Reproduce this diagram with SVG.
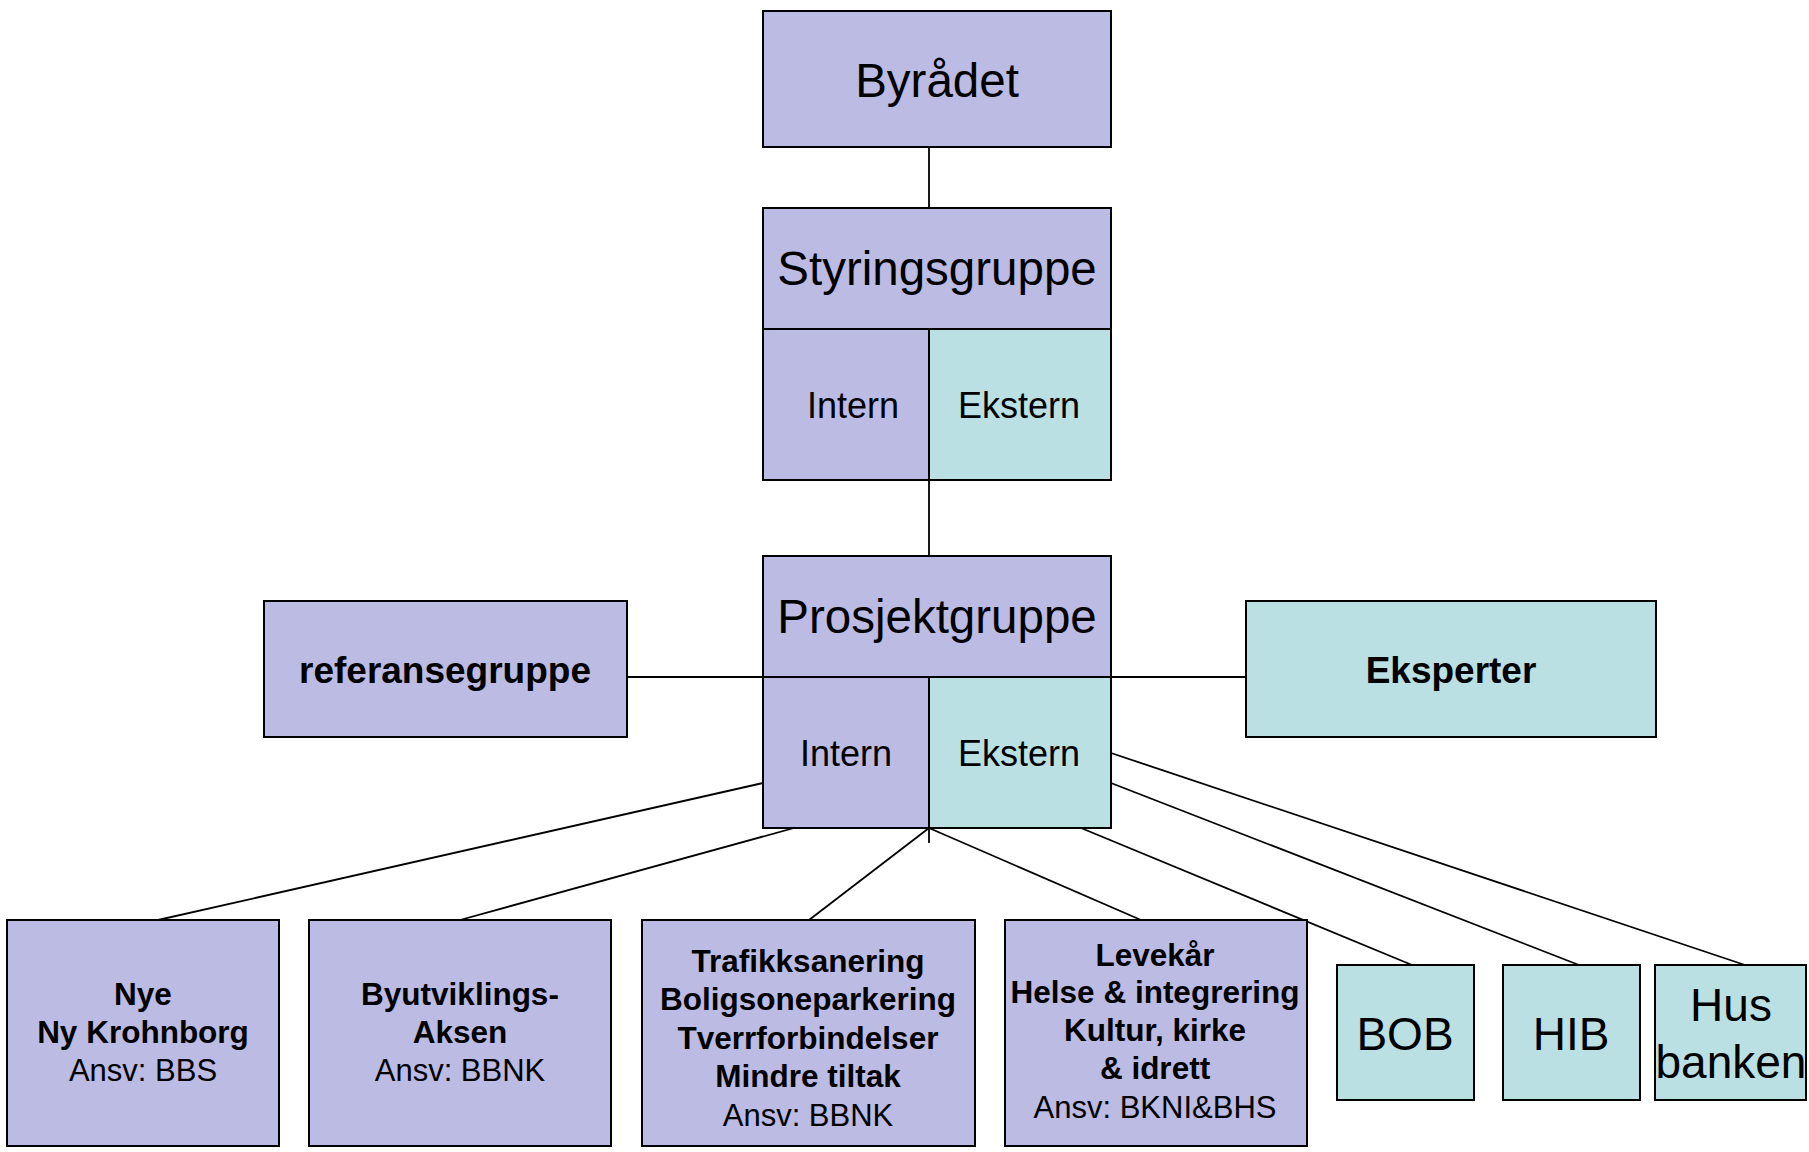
<svg xmlns="http://www.w3.org/2000/svg" width="1809" height="1152" viewBox="0 0 1809 1152">
<style>
  .lav { fill: #BBBBE3; stroke: #000; stroke-width: 2; }
  .cyn { fill: #BAE0E3; stroke: #000; stroke-width: 2; }
  .edge { stroke: #000; stroke-width: 1.8; fill: none; }
  text { font-family: "Liberation Sans", Arial, sans-serif; fill: #000; text-anchor: middle; }
  .big { font-size: 47.5px; }
  .mid { font-size: 36px; }
  .hdr { font-size: 37px; font-weight: bold; }
  .b { font-size: 31.5px; font-weight: bold; }
  .r { font-size: 31px; }
  .box { font-size: 46px; }
</style>
<rect width="1809" height="1152" fill="#FFFFFF"/>

<g id="connectors">
  <line class="edge" x1="929" y1="147" x2="929" y2="208"/>
  <line class="edge" x1="929" y1="480" x2="929" y2="556"/>
  <line class="edge" x1="626" y1="677" x2="1246" y2="677"/>
  <line class="edge" x1="929" y1="828" x2="929" y2="843"/>
  <line class="edge" x1="763" y1="783" x2="158" y2="920"/>
  <line class="edge" x1="794" y1="828" x2="460" y2="920"/>
  <line class="edge" x1="929" y1="828" x2="809" y2="920"/>
  <line class="edge" x1="929" y1="828" x2="1141" y2="920"/>
  <line class="edge" x1="1081" y1="828" x2="1412" y2="965"/>
  <line class="edge" x1="1111" y1="783" x2="1579" y2="965"/>
  <line class="edge" x1="1111" y1="753" x2="1745" y2="965"/>
</g>

<g id="byradet">
  <rect class="lav" x="763" y="11" width="348" height="136"/>
  <text class="big" x="937" y="97">Byrådet</text>
</g>

<g id="styringsgruppe">
  <rect class="lav" x="763" y="208" width="348" height="121"/>
  <rect class="lav" x="763" y="329" width="166" height="151"/>
  <rect class="cyn" x="929" y="329" width="182" height="151"/>
  <text class="big" x="937" y="285">Styringsgruppe</text>
  <text class="mid" x="853" y="418">Intern</text>
  <text class="mid" x="1019" y="418">Ekstern</text>
</g>

<g id="prosjektgruppe">
  <rect class="lav" x="763" y="556" width="348" height="121"/>
  <rect class="lav" x="763" y="677" width="166" height="151"/>
  <rect class="cyn" x="929" y="677" width="182" height="151"/>
  <text class="big" x="937" y="633">Prosjektgruppe</text>
  <text class="mid" x="846" y="766">Intern</text>
  <text class="mid" x="1019" y="766">Ekstern</text>
</g>

<g id="referansegruppe">
  <rect class="lav" x="264" y="601" width="363" height="136"/>
  <text class="hdr" x="445" y="683">referansegruppe</text>
</g>

<g id="eksperter">
  <rect class="cyn" x="1246" y="601" width="410" height="136"/>
  <text class="hdr" x="1451" y="683">Eksperter</text>
</g>

<g id="krohnborg">
  <rect class="lav" x="7" y="920" width="272" height="226"/>
  <text class="b" x="143" y="1005">Nye</text>
  <text class="b" x="143" y="1043">Ny Krohnborg</text>
  <text class="r" x="143" y="1081">Ansv: BBS</text>
</g>

<g id="byutviklingsaksen">
  <rect class="lav" x="309" y="920" width="302" height="226"/>
  <text class="b" x="460" y="1005">Byutviklings-</text>
  <text class="b" x="460" y="1043">Aksen</text>
  <text class="r" x="460" y="1081">Ansv: BBNK</text>
</g>

<g id="trafikk">
  <rect class="lav" x="642" y="920" width="333" height="226"/>
  <text class="b" x="808" y="972">Trafikksanering</text>
  <text class="b" x="808" y="1010">Boligsoneparkering</text>
  <text class="b" x="808" y="1049">Tverrforbindelser</text>
  <text class="b" x="808" y="1087">Mindre tiltak</text>
  <text class="r" x="808" y="1126">Ansv: BBNK</text>
</g>

<g id="levekar">
  <rect class="lav" x="1005" y="920" width="302" height="226"/>
  <text class="b" x="1155" y="966">Levekår</text>
  <text class="b" x="1155" y="1003">Helse &amp; integrering</text>
  <text class="b" x="1155" y="1041">Kultur, kirke</text>
  <text class="b" x="1155" y="1079">&amp; idrett</text>
  <text class="r" x="1155" y="1118">Ansv: BKNI&amp;BHS</text>
</g>

<g id="bob">
  <rect class="cyn" x="1337" y="965" width="137" height="135"/>
  <text class="box" x="1405" y="1050">BOB</text>
</g>

<g id="hib">
  <rect class="cyn" x="1503" y="965" width="137" height="135"/>
  <text class="box" x="1571" y="1050">HIB</text>
</g>

<g id="husbanken">
  <rect class="cyn" x="1655" y="965" width="151" height="135"/>
  <text class="box" x="1731" y="1021">Hus</text>
  <text class="box" x="1731" y="1078">banken</text>
</g>
</svg>
